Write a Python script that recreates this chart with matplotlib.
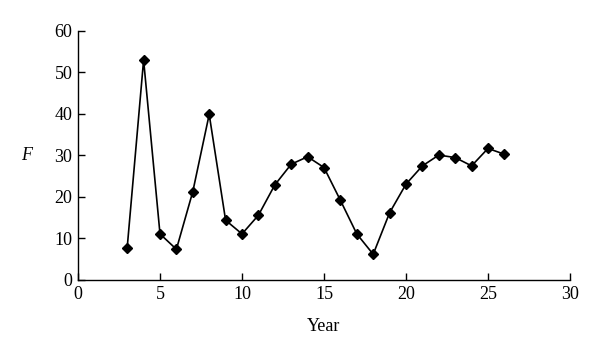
import matplotlib
matplotlib.use("Agg")
import matplotlib.pyplot as plt

years = [3, 4, 5, 6, 7, 8, 9, 10, 11, 12, 13, 14, 15, 16, 17, 18, 19, 20, 21, 22, 23, 24, 25, 26]
F_values = [7.8, 53.0, 11.1, 7.4, 21.3, 39.9, 14.4, 11.1, 15.6, 22.9, 27.9, 29.7, 27.1, 19.2,
            11.1, 6.2, 16.2, 23.1, 27.5, 30.1, 29.5, 27.5, 31.7, 30.3]
x_ticks = [0, 5, 10, 15, 20, 25, 30]
y_ticks = [0, 10, 20, 30, 40, 50, 60]

plt.rcParams['font.family'] = ['Liberation Serif', 'DejaVu Serif']

fig = plt.figure(figsize=(6, 3.57), dpi=100)
ax = fig.add_axes([0.13, 0.2157, 0.82, 0.6975])
ax.plot(years, F_values, color='black', linewidth=1.2, marker='D', markersize=5.5)
ax.set_xlim(0, 30)
ax.set_ylim(0, 60)
ax.set_xticks(x_ticks)
ax.set_yticks(y_ticks)
ax.spines['top'].set_visible(False)
ax.spines['right'].set_visible(False)
for s in ['left', 'bottom']:
    ax.spines[s].set_linewidth(1.0)
ax.tick_params(direction='in', length=5, width=1.0, labelsize=13, pad=4)
ax.set_xlabel('Year', fontsize=13, labelpad=11)
ax.set_ylabel('F', fontsize=13, style='italic', rotation=0, labelpad=20, va='center')
fig.savefig('out.png', dpi=100)
